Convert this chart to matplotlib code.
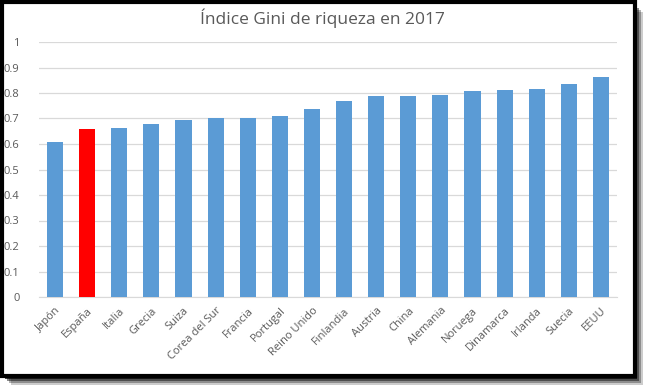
import numpy as np
import matplotlib
matplotlib.use("Agg")
import matplotlib.pyplot as plt
from matplotlib.patches import Rectangle

paises = ["Japón", "España", "Italia", "Grecia", "Suiza", "Corea del Sur", "Francia",
          "Portugal", "Reino Unido", "Finlandia", "Austria", "China", "Alemania",
          "Noruega", "Dinamarca", "Irlanda", "Suecia", "EEUU"]
gini = [0.608, 0.659, 0.663, 0.678, 0.694, 0.701, 0.702, 0.710, 0.736, 0.768,
        0.790, 0.790, 0.791, 0.806, 0.810, 0.814, 0.835, 0.861]
destacado = "España"

plt.rcParams['font.family'] = ['Open Sans', 'DejaVu Sans']
gris = '#595959'

fig = plt.figure(figsize=(6.45, 3.9), dpi=100)
W, H = 645, 390

# marco con sombra
for k, a in enumerate([0.2, 0.3, 0.45, 0.7]):
    off = 8 - 2 * k
    fig.patches.append(Rectangle(((3 + off) / W, 1 - (377 + off) / H), 632 / W, 373 / H,
                                 transform=fig.transFigure, facecolor='black', alpha=a,
                                 edgecolor='none', zorder=0))
fig.patches.append(Rectangle((1.5 / W, 1 - 376 / H), 633 / W, 374.5 / H,
                             transform=fig.transFigure, facecolor='white',
                             edgecolor='black', linewidth=3, zorder=1))

ax = fig.add_axes([39 / W, 1 - 297 / H, 578 / W, 255 / H])
ax.set_zorder(5)
ax.set_facecolor('none')
x = np.arange(len(paises))
colores = ['#ff0000' if p == destacado else '#5b9bd5' for p in paises]
ax.bar(x, gini, width=0.5, color=colores, zorder=3)

ax.set_ylim(0, 1)
ax.set_xlim(-0.5, len(paises) - 0.5)
ax.set_yticks(np.arange(0, 1.01, 0.1))
ax.set_yticklabels(["0", "0.1", "0.2", "0.3", "0.4", "0.5", "0.6", "0.7", "0.8", "0.9", "1"])
ax.grid(axis='y', color='#d9d9d9', linewidth=0.9, zorder=0)
ax.set_xticks(x)
ax.set_xticklabels(paises, rotation=45, ha='right', rotation_mode='anchor')
ax.tick_params(axis='both', length=0, labelsize=8, labelcolor=gris)
ax.tick_params(axis='y', pad=14)
ax.tick_params(axis='x', pad=6)
for s in ['top', 'right', 'left']:
    ax.spines[s].set_visible(False)
ax.spines['bottom'].set_color('#d9d9d9')

fig.text(0.5, 1 - 18 / H, "Índice Gini de riqueza en 2017", ha='center', va='center',
         fontsize=12.5, color=gris, zorder=6)

fig.savefig("out.png", dpi=100)
